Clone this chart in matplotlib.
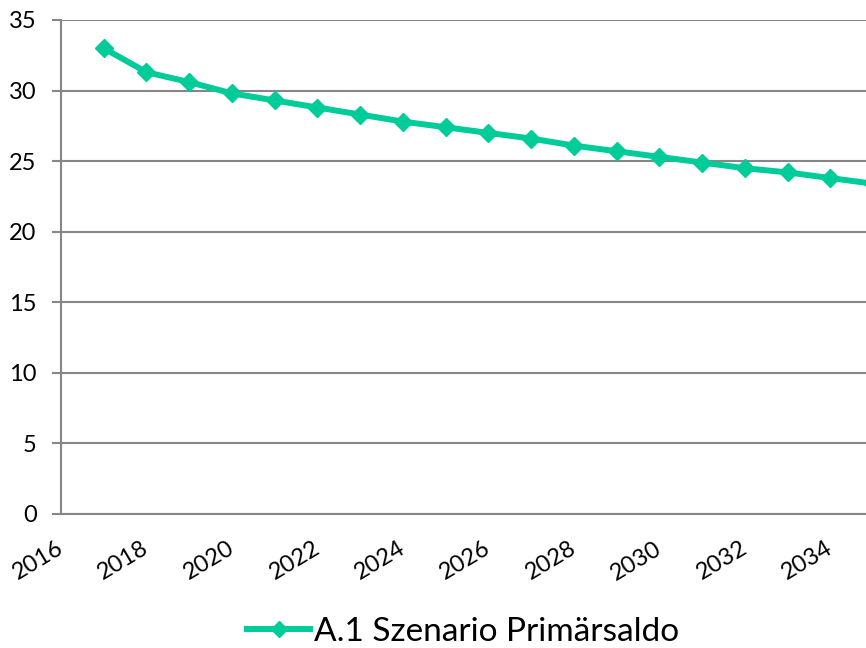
import matplotlib
matplotlib.use("Agg")
import matplotlib.pyplot as plt
from matplotlib.transforms import ScaledTranslation

plt.rcParams['font.family'] = ['Lato', 'DejaVu Sans']

years = list(range(2017, 2036))
saldo = [33.0, 31.3, 30.6, 29.8, 29.3, 28.8, 28.3, 27.8, 27.4, 27.0,
         26.6, 26.1, 25.7, 25.3, 24.9, 24.5, 24.2, 23.8, 23.4]
tick_years = list(range(2016, 2036, 2))
yticks = [0, 5, 10, 15, 20, 25, 30, 35]
series_name = "A.1 Szenario Primärsaldo"

green = "#00CC99"
gray = "#868686"

fig = plt.figure(figsize=(8.66, 6.48), dpi=100)
ax = fig.add_axes([61/866, 134/648, 855/866, 494/648])

line, = ax.plot(years, saldo, color=green, lw=4.3, marker="D", ms=9.5,
                mec=green, mfc=green, label=series_name, zorder=3,
                solid_joinstyle="round")

ax.set_xlim(2016, 2036)
ax.set_ylim(0, 35)
ax.set_yticks(yticks)
ax.set_xticks(tick_years)
ax.set_xticklabels([str(y) for y in tick_years], rotation=31, ha="right",
                   va="top", rotation_mode="anchor")

ax.grid(axis="y", color=gray, lw=1.5)
ax.set_axisbelow(True)
for s in ["top", "right"]:
    ax.spines[s].set_visible(False)
ax.spines["left"].set_color(gray)
ax.spines["left"].set_linewidth(1.5)
ax.spines["bottom"].set_color(gray)
ax.spines["bottom"].set_linewidth(1.5)

ax.tick_params(axis="y", length=6.5, width=1.5, color=gray, pad=11,
               labelsize=17)
ax.tick_params(axis="x", length=0, pad=17, labelsize=17)

# nudge the rotated year labels a little to the left
shift = ScaledTranslation(-5/100, 0, fig.dpi_scale_trans)
for lab in ax.get_xticklabels():
    lab.set_transform(lab.get_transform() + shift)

fig.legend(handles=[line], loc="center", bbox_to_anchor=(463/866, 1 - 632/648),
           frameon=False, fontsize=24, handlelength=1.9, handletextpad=0.1,
           markerscale=0.85)

fig.savefig("out.png", dpi=100)
